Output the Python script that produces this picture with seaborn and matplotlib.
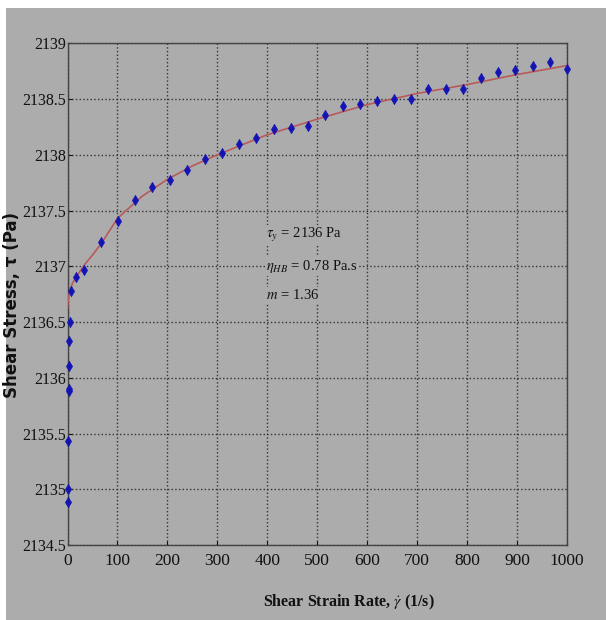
import matplotlib
matplotlib.use('Agg')
import matplotlib.pyplot as plt
import pandas as pd
import seaborn as sns
from matplotlib.patches import Rectangle

# measured points (shear strain rate, shear stress)
rate = [0, 0, 1, 3, 3, 3, 4, 5, 8, 17, 33, 67, 102, 136, 170, 206, 240, 275,
        309, 343, 378, 413, 447, 481, 516, 551, 585, 620, 654, 688, 722, 758,
        792, 828, 862, 896, 931, 965, 1000]
stress = [2134.89, 2135.00, 2135.43, 2135.88, 2135.90, 2136.11, 2136.33, 2136.50,
          2136.78, 2136.90, 2136.97, 2137.22, 2137.41, 2137.59, 2137.71, 2137.77,
          2137.86, 2137.96, 2138.02, 2138.10, 2138.15, 2138.23, 2138.24, 2138.26,
          2138.36, 2138.44, 2138.46, 2138.48, 2138.50, 2138.50, 2138.59, 2138.59,
          2138.59, 2138.69, 2138.74, 2138.76, 2138.80, 2138.83, 2138.77]

# fitted curve
fit_rate = [0, 1, 2, 5, 10, 20, 35, 50, 70, 100, 150, 200, 250, 300, 400, 500,
            600, 700, 800, 900, 1000]
fit_stress = [2136.62, 2136.68, 2136.72, 2136.78, 2136.85, 2136.92, 2137.02, 2137.10,
              2137.22, 2137.43, 2137.63, 2137.78, 2137.90, 2138.00, 2138.18, 2138.32,
              2138.45, 2138.55, 2138.63, 2138.72, 2138.80]

x_ticks = [0, 100, 200, 300, 400, 500, 600, 700, 800, 900, 1000]
y_ticks = [2134.5, 2135, 2135.5, 2136, 2136.5, 2137, 2137.5, 2138, 2138.5, 2139]
y_labels = ['2134.5', '2135', '2135.5', '2136', '2136.5', '2137', '2137.5', '2138', '2138.5', '2139']

bg = '#acacac'
sns.set_style('ticks')
plt.rcParams['font.family'] = ['Liberation Serif', 'DejaVu Serif']
plt.rcParams['mathtext.fontset'] = 'stix'

fig = plt.figure(figsize=(6.06, 6.20), dpi=100, facecolor='white')
fig.patches.append(Rectangle((6 / 606, 0), 1, 1 - 8 / 620, transform=fig.transFigure,
                             facecolor=bg, edgecolor='none', zorder=-10))
ax = fig.add_axes([67.5 / 606, 1 - 545 / 620, (567 - 67.5) / 606, (545 - 43.3) / 620])
ax.set_facecolor(bg)

df_fit = pd.DataFrame({'rate': fit_rate, 'stress': fit_stress})
df_pts = pd.DataFrame({'rate': rate, 'stress': stress})
sns.lineplot(data=df_fit, x='rate', y='stress', ax=ax, color='#b85a5a', linewidth=1.2, zorder=3)
sns.scatterplot(data=df_pts, x='rate', y='stress', ax=ax, marker='d', s=28,
                color='#1414b4', edgecolor='#1414b4', zorder=4, clip_on=False)

ax.set_xlim(0, 1000)
ax.set_ylim(2134.5, 2139)
ax.set_xticks(x_ticks)
ax.set_yticks(y_ticks)
ax.set_yticklabels(y_labels)
ax.tick_params(labelsize=12.5, length=3, direction='in', colors='#111111')
ax.tick_params(axis='x', pad=6)
ax.tick_params(axis='y', pad=1, labelsize=11.5)
ax.grid(True, color='#333333', linestyle=':', linewidth=1.0)
for s in ax.spines.values():
    s.set_color('#444444')
    s.set_linewidth(1.0)

ax.set_xlabel(r'Shear Strain Rate, $\dot{\gamma}$ (1/s)', fontsize=11.5, fontweight='bold',
              color='#111111')
ax.set_ylabel(r'Shear Stress, τ (Pa)', fontsize=12, fontweight='bold', color='#111111',
              family=['DejaVu Sans'])
ax.xaxis.set_label_coords((349 - 67.5) / 499.5, -(593 - 545) / 501.7)
ax.yaxis.set_label_coords(-(67.5 - 21) / 499.5, (545 - 305) / 501.7)

txt = [r'$\tau_y$ = 2136 Pa', r'$\eta_{HB}$ = 0.78 Pa.s', r'$m$ = 1.36']
txt_y = [2137.28, 2137.0, 2136.74]
for t, ty in zip(txt, txt_y):
    ax.text(398, ty, t, fontsize=10.5, ha='left', va='center', color='#111111', zorder=5,
            bbox=dict(facecolor=bg, edgecolor='none', pad=1))

fig.savefig('out.png', dpi=100, facecolor=fig.get_facecolor())
